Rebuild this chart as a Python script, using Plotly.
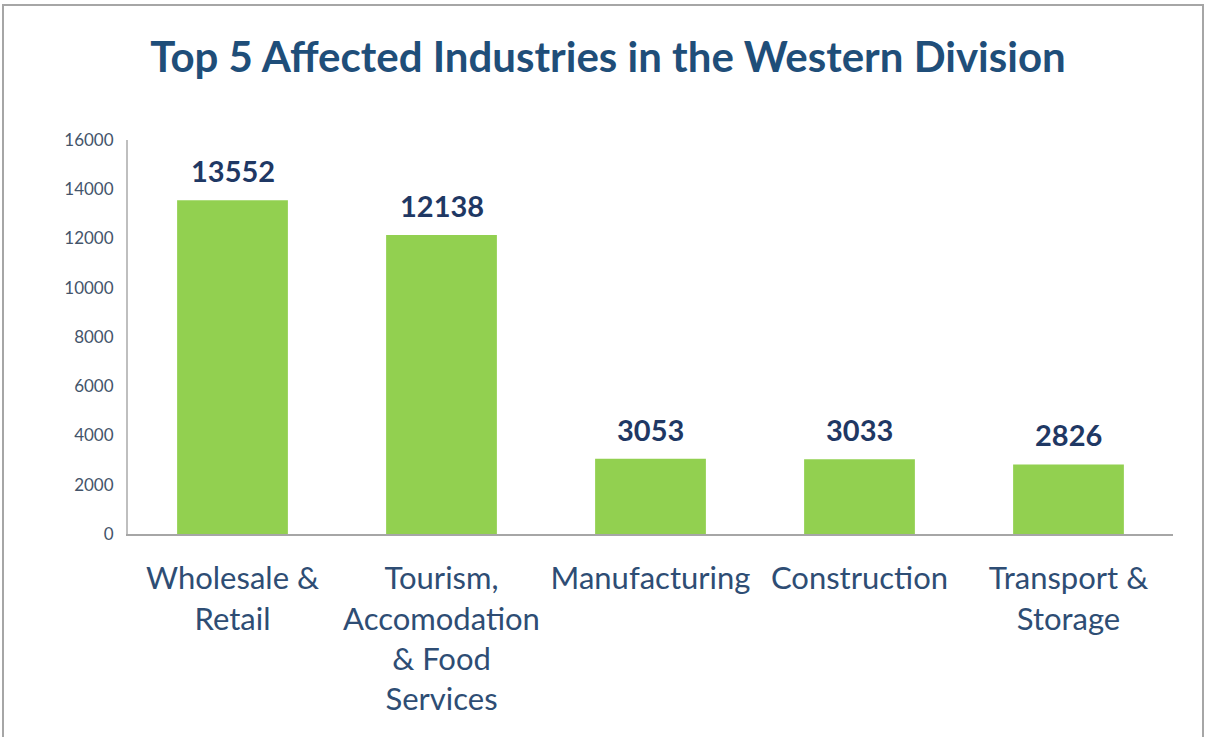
import plotly.graph_objects as go

categories = ["Wholesale &<br>Retail", "Tourism,<br>Accomodation<br>& Food<br>Services",
              "Manufacturing", "Construction", "Transport &<br>Storage"]
values = [13552, 12138, 3053, 3033, 2826]
y_ticks = [0, 2000, 4000, 6000, 8000, 10000, 12000, 14000, 16000]

W, H = 1206, 737
L, R, T, B = 128, 33, 140, 203
pw, ph = W - L - R, H - T - B

fig = go.Figure()
fig.add_trace(go.Bar(x=categories, y=values, marker=dict(color="#92D050", line=dict(width=0)),
                     hoverinfo="skip"))

for c, v in zip(categories, values):
    fig.add_annotation(x=c, y=v, text=f"<b>{v}</b>", showarrow=False, yanchor="bottom",
                       yshift=10, font=dict(family="Lato", size=29, color="#1F3864"))

fig.add_shape(type="rect", xref="paper", yref="paper",
              x0=(3 - L) / pw, x1=(1203 - L) / pw, y0=-(B + 20) / ph, y1=1 + (T - 5) / ph,
              line=dict(color="#A6A6A6", width=2), fillcolor="rgba(0,0,0,0)", layer="below")

fig.update_layout(
    width=W, height=H, margin=dict(l=L, r=R, t=T, b=B),
    paper_bgcolor="white", plot_bgcolor="white", showlegend=False, bargap=0.47,
    title=dict(text="<b>Top 5 Affected Industries in the Western Division</b>",
               x=608 / W, xanchor="center", y=1 - 57 / H, yanchor="middle",
               font=dict(family="Lato", size=42, color="#1F4E79")),
)
fig.update_xaxes(showline=True, linecolor="#A6A6A6", linewidth=2, ticks="", showgrid=False,
                 tickfont=dict(family="Lato", size=31, color="#2E4D74"), ticklabelstandoff=16,
                 fixedrange=True)
fig.update_yaxes(range=[0, 16000], tickvals=y_ticks, ticktext=[str(t) for t in y_ticks],
                 showline=True, linecolor="#BFBFBF",
                 linewidth=2, showgrid=False, zeroline=False, ticks="",
                 tickfont=dict(family="Lato", size=17, color="#44546A"), ticklabelstandoff=9,
                 fixedrange=True)

fig.write_html("out.html", config={"displayModeBar": False},
               post_script="document.body.style.margin='0';document.body.style.overflow='hidden';")
